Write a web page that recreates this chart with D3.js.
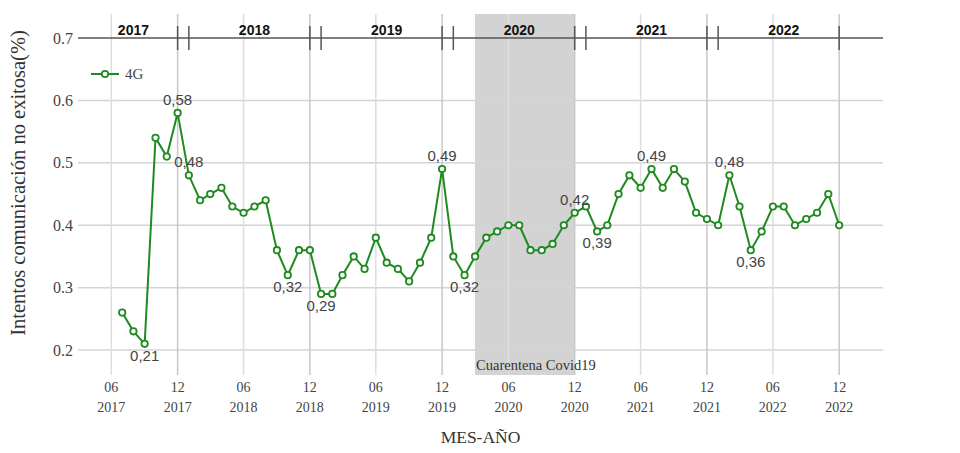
<!DOCTYPE html>
<html>
<head>
<meta charset="utf-8">
<script src="https://cdn.jsdelivr.net/npm/d3@7"></script>
<style>
  html, body { margin: 0; padding: 0; background: #fff; }
  svg { display: block; }
</style>
</head>
<body>
<svg id="chart" width="960" height="453"></svg>
<script>
// ---------------- DATA ----------------
const seriesName = "4G";
const months = [
  "2017-07","2017-08","2017-09","2017-10","2017-11","2017-12",
  "2018-01","2018-02","2018-03","2018-04","2018-05","2018-06","2018-07","2018-08","2018-09","2018-10","2018-11","2018-12",
  "2019-01","2019-02","2019-03","2019-04","2019-05","2019-06","2019-07","2019-08","2019-09","2019-10","2019-11","2019-12",
  "2020-01","2020-02","2020-03","2020-04","2020-05","2020-06","2020-07","2020-08","2020-09","2020-10","2020-11","2020-12",
  "2021-01","2021-02","2021-03","2021-04","2021-05","2021-06","2021-07","2021-08","2021-09","2021-10","2021-11","2021-12",
  "2022-01","2022-02","2022-03","2022-04","2022-05","2022-06","2022-07","2022-08","2022-09","2022-10","2022-11","2022-12"
];
const values = [
  0.26,0.23,0.21,0.54,0.51,0.58,
  0.48,0.44,0.45,0.46,0.43,0.42,0.43,0.44,0.36,0.32,0.36,0.36,
  0.29,0.29,0.32,0.35,0.33,0.38,0.34,0.33,0.31,0.34,0.38,0.49,
  0.35,0.32,0.35,0.38,0.39,0.40,0.40,0.36,0.36,0.37,0.40,0.42,
  0.43,0.39,0.40,0.45,0.48,0.46,0.49,0.46,0.49,0.47,0.42,0.41,
  0.40,0.48,0.43,0.36,0.39,0.43,0.43,0.40,0.41,0.42,0.45,0.40
];
// labelled points: month and whether label sits above or below
const labelMonths = ["2017-09","2017-12","2018-01","2018-10","2019-01","2019-12","2020-02","2020-12","2021-02","2021-07","2022-02","2022-04"];
const labelSides  = ["below","above","above","below","below","above","below","above","below","above","above","below"];

const xTickMonths = ["2017-06","2017-12","2018-06","2018-12","2019-06","2019-12","2020-06","2020-12","2021-06","2021-12","2022-06","2022-12"];
const yTicks = [0.2, 0.3, 0.4, 0.5, 0.6, 0.7];

const yearLabels = ["2017","2018","2019","2020","2021","2022"];
const yearLabelMonths = ["2017-08","2018-07","2019-07","2020-07","2021-07","2022-07"];
const yearMarkMonths = ["2017-12","2018-01","2018-12","2019-01","2019-12","2020-01","2020-12","2021-01","2021-12","2022-01","2022-12"];

const covidStart = "2020-03", covidEnd = "2020-12";
const covidText = "Cuarentena Covid19";
const xDomainMonths = ["2017-03","2023-04"];
const yDomain = [0.16, 0.7385];

const yTitle = "Intentos comunicación no exitosa(%)";
const xTitle = "MES-AÑO";

// ---------------- CHART ----------------
const parse = d3.timeParse("%Y-%m");
const fmtMonth = d3.timeFormat("%m");
const fmtYear = d3.timeFormat("%Y");
const fmtVal = v => d3.format(".2f")(v).replace(".", ",");

const L = 78, R = 883, T = 14, B = 375;
const svg = d3.select("#chart");
const x = d3.scaleTime().domain(xDomainMonths.map(parse)).range([L, R]);
const y = d3.scaleLinear().domain(yDomain).range([B, T]);

const serif = "'Liberation Serif','Times New Roman',serif";
const sans = "'Liberation Sans',Arial,sans-serif";

// covid rect
svg.append("rect")
  .attr("x", x(parse(covidStart))).attr("y", T)
  .attr("width", x(parse(covidEnd)) - x(parse(covidStart)))
  .attr("height", B - T)
  .attr("fill", "#d3d3d3");

// horizontal grid
svg.append("g").selectAll("line").data(yTicks.filter(v => v < 0.7)).join("line")
  .attr("x1", L).attr("x2", R)
  .attr("y1", d => y(d)).attr("y2", d => y(d))
  .attr("stroke", "#d4d4d4").attr("stroke-width", 1.5);

// vertical grid
svg.append("g").selectAll("line").data(xTickMonths.map(parse)).join("line")
  .attr("x1", d => x(d)).attr("x2", d => x(d))
  .attr("y1", T).attr("y2", B)
  .attr("stroke", d => d.getMonth() === 11 ? "#c8c8c8" : "#dedede").attr("stroke-width", 1.5);

// top line at 0.7
svg.append("line")
  .attr("x1", L).attr("x2", R)
  .attr("y1", y(0.7)).attr("y2", y(0.7))
  .attr("stroke", "#555").attr("stroke-width", 1.5);

// year marks
svg.append("g").selectAll("line").data(yearMarkMonths.map(parse)).join("line")
  .attr("x1", d => x(d)).attr("x2", d => x(d))
  .attr("y1", y(0.7) - 12).attr("y2", y(0.7) + 12)
  .attr("stroke", "#555").attr("stroke-width", 1.5);

// year labels
svg.append("g").selectAll("text").data(yearLabels).join("text")
  .attr("x", (d, i) => x(parse(yearLabelMonths[i])))
  .attr("y", y(0.7) - 3)
  .attr("text-anchor", "middle")
  .attr("font-family", sans).attr("font-weight", "bold").attr("font-size", 14)
  .attr("fill", "#111")
  .text(d => d);

// covid text
svg.append("text")
  .attr("x", x(parse(covidStart)) + 1).attr("y", B - 5)
  .attr("font-family", serif).attr("font-size", 14.5).attr("fill", "#333")
  .text(covidText);

// y tick labels
svg.append("g").selectAll("text").data(yTicks).join("text")
  .attr("x", 73).attr("y", d => y(d) + 5.5)
  .attr("text-anchor", "end")
  .attr("font-family", serif).attr("font-size", 16).attr("fill", "#444")
  .text(d => d.toFixed(1));

// x tick labels (two lines)
const xt = svg.append("g").selectAll("text").data(xTickMonths.map(parse)).join("text")
  .attr("text-anchor", "middle")
  .attr("font-family", serif).attr("font-size", 14).attr("fill", "#444");
xt.append("tspan").attr("x", d => x(d)).attr("y", 392).text(d => fmtMonth(d));
xt.append("tspan").attr("x", d => x(d)).attr("y", 412).text(d => fmtYear(d));

// axis titles
svg.append("text")
  .attr("transform", `translate(25, 183) rotate(-90)`)
  .attr("text-anchor", "middle")
  .attr("font-family", serif).attr("font-size", 20.5).attr("fill", "#333")
  .text(yTitle);
svg.append("text")
  .attr("x", (L + R) / 2).attr("y", 443)
  .attr("text-anchor", "middle")
  .attr("font-family", serif).attr("font-size", 17.5).attr("fill", "#333")
  .text(xTitle);

// line + markers
const data = months.map((m, i) => ({ date: parse(m), value: values[i] }));
const color = "#1f8a1f";
svg.append("path").datum(data)
  .attr("fill", "none").attr("stroke", color).attr("stroke-width", 2)
  .attr("d", d3.line().x(d => x(d.date)).y(d => y(d.value)));
svg.append("g").selectAll("circle").data(data).join("circle")
  .attr("cx", d => x(d.date)).attr("cy", d => y(d.value)).attr("r", 3.2)
  .attr("fill", "#fff").attr("stroke", color).attr("stroke-width", 1.8);

// data labels
const labelData = labelMonths.map((m, i) => {
  const d = data[months.indexOf(m)];
  return { date: d.date, value: d.value, side: labelSides[i] };
});
svg.append("g").selectAll("text").data(labelData).join("text")
  .attr("x", d => x(d.date))
  .attr("y", d => y(d.value) + (d.side === "above" ? -8 : 17))
  .attr("text-anchor", "middle")
  .attr("font-family", sans).attr("font-size", 15).attr("fill", "#444")
  .text(d => fmtVal(d.value));

// legend
svg.append("line").attr("x1", 91).attr("x2", 119).attr("y1", 74).attr("y2", 74)
  .attr("stroke", color).attr("stroke-width", 2);
svg.append("circle").attr("cx", 105).attr("cy", 74).attr("r", 3.2)
  .attr("fill", "#fff").attr("stroke", color).attr("stroke-width", 1.8);
svg.append("text").attr("x", 125).attr("y", 79)
  .attr("font-family", serif).attr("font-size", 15).attr("fill", "#444")
  .text(seriesName);
</script>
</body>
</html>
